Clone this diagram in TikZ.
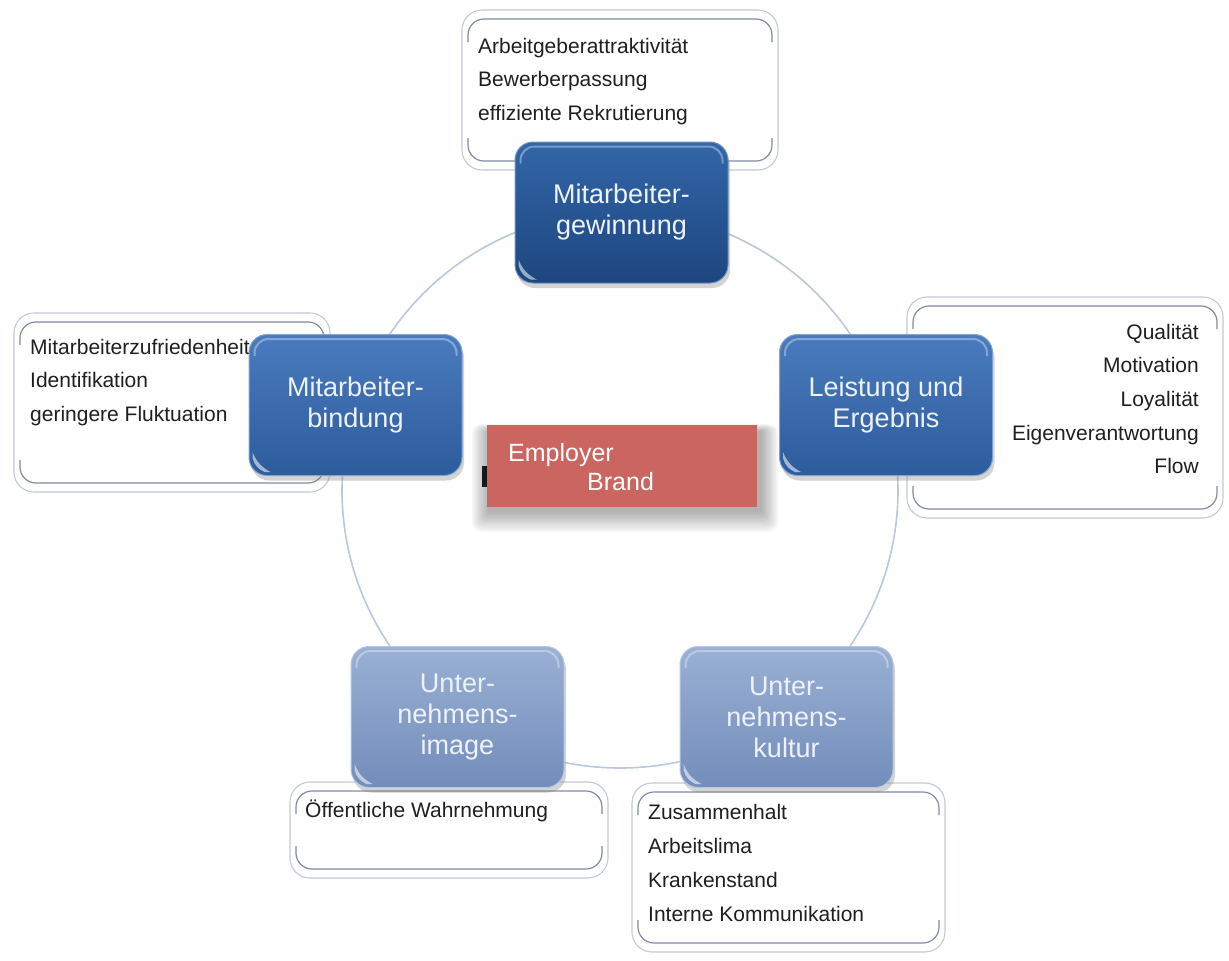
\documentclass[tikz,border=0pt]{standalone}
\usepackage{fontspec}
\setmainfont{Liberation Sans}
\usetikzlibrary{shadows}
\definecolor{darkTop}{HTML}{3366A8}
\definecolor{darkBot}{HTML}{1D467F}
\definecolor{midTop}{HTML}{4A7BBE}
\definecolor{midBot}{HTML}{2D5C9C}
\definecolor{lightTop}{HTML}{9AB0D4}
\definecolor{lightBot}{HTML}{738DBB}
\definecolor{circleCol}{HTML}{B9C8DB}
\definecolor{outerCol}{HTML}{C2CAD6}
\definecolor{innerCol}{HTML}{7F8CA3}
\definecolor{brandRed}{HTML}{CA655F}
\definecolor{boxText}{HTML}{EEF2F8}
\newcommand\calloutframe[4]{%
  \draw[calloutouter] (#1,#2) rectangle (#3,#4);
  \draw[calloutinner] (#1+6,#2+32) -- (#1+6,#2+9) -- (#3-6,#2+9) -- (#3-6,#2+32);
  \draw[calloutinner] (#1+6,#4-32) -- (#1+6,#4-9) -- (#3-6,#4-9) -- (#3-6,#4-32);
}
\begin{document}
\begin{tikzpicture}[x=1pt,y=-1pt,
  calloutouter/.style={draw=outerCol, line width=1.1pt, rounded corners=20pt},
  calloutinner/.style={draw=innerCol, line width=1.2pt, rounded corners=16pt},
  calltext/.style={font=\fontsize{21}{33.7}\selectfont, text=black!88, inner sep=0pt, align=left},
  bluebox/.style={rounded corners=18pt, minimum width=213pt, minimum height=141pt,
    font=\fontsize{27}{31}\selectfont, text=boxText, align=center, inner sep=0pt,
    drop shadow={opacity=0.35, shadow xshift=2pt, shadow yshift=-5pt}},
  darkbox/.style={bluebox, top color=darkTop, bottom color=darkBot, draw=darkTop!70!white, line width=1pt},
  midbox/.style={bluebox, top color=midTop, bottom color=midBot, draw=midTop!70!white, line width=1pt},
  lightbox/.style={bluebox, top color=lightTop, bottom color=lightBot, draw=lightTop!70!white, line width=1pt},
  circ/.style={draw=circleCol, line width=1.6pt},
  brandtext/.style={font=\fontsize{25}{30}\selectfont, text=white, inner sep=0pt}
]
\useasboundingbox (0,0) rectangle (1229,961);

% callout frames
\calloutframe{462}{10}{778}{170}
\calloutframe{14}{313}{330}{492}
\calloutframe{907}{297}{1223}{518}
\calloutframe{290}{782}{608}{878}
\calloutframe{632}{783}{945}{952}

% callout texts (base anchor = baseline of the last line)
\node[calltext, anchor=base west] (tTop) at (478,120.4) {Arbeitgeberattraktivität\\Bewerberpassung\\effiziente Rekrutierung};
\node[calltext, anchor=base west] (tLeft) at (30,421.4) {Mitarbeiterzufriedenheit\\Identifikation\\geringere Fluktuation};
\node[calltext, anchor=base east, align=right] (tRight) at (1199,473.8) {Qualität\\Motivation\\Loyalität\\Eigenverantwortung\\Flow};
\node[calltext, anchor=base west] (tBL) at (305,817) {Öffentliche Wahrnehmung};
\node[calltext, anchor=base west] (tBR) at (648,921) {Zusammenhalt\\Arbeitslima\\Krankenstand\\Interne Kommunikation};

% circle
\draw[circ] (620,490) circle[radius=278pt];

% blue boxes
\node[darkbox] (gew) at (621.5,212.5) {Mitarbeiter-\\gewinnung};
\node[midbox] (bind) at (355.5,405) {Mitarbeiter-\\bindung};
\node[midbox] (leist) at (886,405) {Leistung und\\Ergebnis};
\node[lightbox] (image) at (457.5,717) {Unter-\\nehmens-\\image};
\node[lightbox] (kultur) at (786.5,717) {Unter-\\nehmens-\\kultur};

% gloss highlights
\foreach \n in {gew,bind,leist,image,kultur}{
  \draw[white, opacity=0.35, line width=2pt, rounded corners=14pt]
    ([xshift=6pt,yshift=-22pt]\n.north west) -- ([xshift=6pt,yshift=-5pt]\n.north west) -- ([xshift=-6pt,yshift=-5pt]\n.north east) -- ([xshift=-6pt,yshift=-22pt]\n.north east);
  \fill[white, opacity=0.55] ([xshift=4pt,yshift=24pt]\n.south west) to[bend right=20] ([xshift=22pt,yshift=4pt]\n.south west) -- ([xshift=16pt,yshift=4pt]\n.south west) to[bend left=25] ([xshift=4pt,yshift=18pt]\n.south west) -- cycle;
}

% small dark mark behind red box
\fill[black!85] (482,466) rectangle (490,487);

% red box shadow
\foreach \i in {1,...,10}{
  \fill[black, opacity=0.035, rounded corners=\i pt] (487-\i*1.8+3, 432-\i*0.8) rectangle (757+\i*1.8+3, 510+\i*2.2);
}
\node[fill=brandRed, minimum width=270pt, minimum height=82pt, inner sep=0pt] (brand) at (622,466) {};
\node[brandtext, anchor=base west] (emp) at (508,461) {Employer};
\node[brandtext, anchor=base west] (brd) at (587,490) {Brand};
\end{tikzpicture}
\end{document}
